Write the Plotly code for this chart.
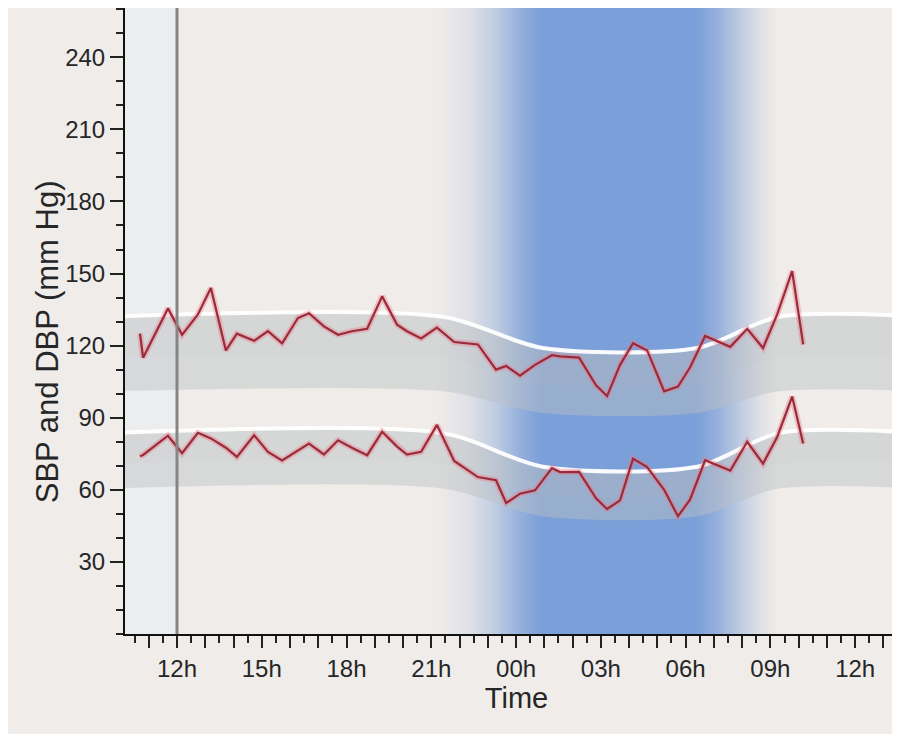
import plotly.graph_objects as go

# ---- data (time in hours from midnight of day 1) ----
time_h = [10.69, 10.80, 11.68, 12.18, 12.74, 13.20, 13.73, 14.12, 14.73, 15.22,
          15.72, 16.28, 16.67, 17.20, 17.70, 18.19, 18.73, 19.26, 19.79, 20.14,
          20.64, 21.20, 21.81, 22.65, 23.29, 23.65, 24.14, 24.67, 25.27, 25.56,
          26.23, 26.83, 27.22, 27.68, 28.14, 28.64, 29.24, 29.73, 30.16, 30.69,
          31.58, 32.18, 32.74, 33.24, 33.77, 34.16]
sbp = [125, 115, 135.5, 124.5, 133, 144, 118, 125, 122, 126,
       121, 131.5, 133.5, 128, 124.5, 126, 127, 140.5, 128.7, 126,
       123, 127.5, 121.5, 120.5, 110, 111.5, 107.5, 112, 116, 115.5,
       115, 103.5, 99, 112, 121, 118, 101, 103, 111, 124,
       119.5, 127, 119, 133, 151, 120.5]
dbp = [74, 74.5, 82.5, 75.2, 83.7, 81.4, 77.5, 73.7, 82.7, 75.8,
       72.2, 76.5, 79.2, 74.7, 80.6, 77.5, 74.4, 84.2, 78, 74.7,
       75.8, 87, 72, 65.3, 64, 54.5, 58.4, 59.8, 69, 67.4,
       67.5, 56.5, 52, 55.6, 73, 69.5, 60, 49, 56, 72.3,
       68, 80, 70.9, 82, 98.8, 79.3]

# reference bands (day / night)
band_time = [9.5, 21.4, 24.95, 30.4, 33.3, 38.5]
sbp_band_upper = [132, 132, 119, 119, 132, 132]
sbp_band_lower = [101, 101, 92, 92, 101, 101]
dbp_band_upper = [83.6, 83.6, 69.6, 69.6, 83.6, 83.6]
dbp_band_lower = [60.5, 60.5, 49, 49, 60.5, 60.5]

# night shading intensity
night_x = [21.2, 22.3, 23.3, 24.2, 24.9, 30.3, 31.1, 31.9, 32.6, 33.2]
night_level = [0, 0.14, 0.42, 0.8, 1, 1, 0.78, 0.42, 0.14, 0]

hour_ticks = list(range(11, 38))
hour_labels = {12: "12h", 15: "15h", 18: "18h", 21: "21h", 24: "00h",
               27: "03h", 30: "06h", 33: "09h", 36: "12h"}
y_ticks = [30, 60, 90, 120, 150, 180, 210, 240]

X_RANGE = [10.16, 37.87]
Y_RANGE = [0, 260.5]
BG = "#EFECE9"
BLUE = "#7B9FD8"
TICK_FONT = "Liberation Sans Narrow, Arial Narrow, Liberation Sans, Arial, sans-serif"

fig = go.Figure()

# night shading gradient
fig.add_trace(go.Heatmap(
    x=night_x, y=Y_RANGE, z=[night_level, night_level],
    zsmooth="best", zmin=0, zmax=1,
    colorscale=[[0, BG], [1, BLUE]], showscale=False, hoverinfo="skip"))


def add_band(upper, lower):
    layers = [(1.0, 0.46), (0.55, 0.08)]
    for depth, alpha in layers:
        bot = [u - (u - l) * depth for u, l in zip(upper, lower)]
        fig.add_trace(go.Scatter(x=band_time, y=bot, mode="lines",
                                 line=dict(width=0, shape="spline", smoothing=0.8),
                                 hoverinfo="skip", showlegend=False))
        fig.add_trace(go.Scatter(x=band_time, y=upper, mode="lines", fill="tonexty",
                                 fillcolor=f"rgba(188,192,197,{alpha})",
                                 line=dict(width=0, shape="spline", smoothing=0.8),
                                 hoverinfo="skip", showlegend=False))
    fig.add_trace(go.Scatter(x=band_time, y=upper, mode="lines",
                             line=dict(color="rgba(255,255,255,0.95)", width=4,
                                       shape="spline", smoothing=0.8),
                             hoverinfo="skip", showlegend=False))


add_band(sbp_band_upper, sbp_band_lower)
add_band(dbp_band_upper, dbp_band_lower)

for series in (sbp, dbp):
    fig.add_trace(go.Scatter(x=time_h, y=series, mode="lines",
                             line=dict(color="rgba(235,120,135,0.38)", width=6),
                             hoverinfo="skip", showlegend=False))
    fig.add_trace(go.Scatter(x=time_h, y=series, mode="lines",
                             line=dict(color="#9C2A3A", width=2.2),
                             hoverinfo="skip", showlegend=False))

# vertical marker at 12h
fig.add_trace(go.Scatter(x=[12, 12], y=Y_RANGE, mode="lines",
                         line=dict(color="#858585", width=3),
                         hoverinfo="skip", showlegend=False))

fig.update_layout(
    width=900, height=734,
    margin=dict(l=117, r=0, t=0, b=108),
    paper_bgcolor=BG, plot_bgcolor=BG,
    showlegend=False,
    shapes=[
        dict(type="rect", xref="x", yref="y", x0=X_RANGE[0], x1=12,
             y0=Y_RANGE[0], y1=Y_RANGE[1], fillcolor="#ECEDEF",
             line=dict(width=0), layer="below"),
    ],
    annotations=[
        dict(text="SBP and DBP (mm Hg)", xref="paper", yref="paper",
             x=0, y=0.466, xanchor="center", yanchor="middle",
             xshift=-78, textangle=-90, showarrow=False,
             font=dict(family="Liberation Sans, Arial, sans-serif",
                       size=31, color="#262626")),
    ],
    xaxis=dict(
        range=X_RANGE, showgrid=False, zeroline=False, automargin=False,
        showline=True, linecolor="#111", linewidth=2,
        ticks="outside", tickvals=hour_ticks,
        ticktext=[hour_labels.get(h, "") for h in hour_ticks],
        ticklen=12, tickwidth=2, tickcolor="#222",
        minor=dict(tickvals=[h + 0.5 for h in range(10, 38)], ticks="outside",
                   ticklen=7, tickwidth=2, tickcolor="#222"),
        tickfont=dict(family=TICK_FONT, size=24, color="#262626"),
        title=dict(text="Time", standoff=4,
                   font=dict(family=TICK_FONT, size=29, color="#262626")),
    ),
    yaxis=dict(
        range=Y_RANGE, showgrid=False, zeroline=False, automargin=False,
        showline=True, linecolor="#111", linewidth=2,
        ticks="outside", tickvals=y_ticks,
        ticklen=13, tickwidth=2, tickcolor="#222",
        minor=dict(dtick=10, tick0=0, ticks="outside", ticklen=7,
                   tickwidth=2, tickcolor="#222"),
        tickfont=dict(family=TICK_FONT, size=24, color="#262626"),
    ),
)

fig.write_html("out.html")
